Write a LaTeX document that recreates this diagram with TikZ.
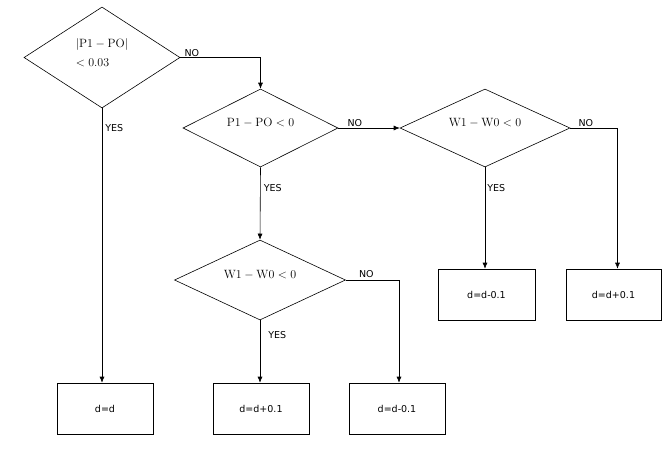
\documentclass[tikz,border=0pt]{standalone}
\usepackage{amsmath}
\usepackage{fontspec}
\setsansfont{DejaVu Sans}
\usetikzlibrary{shapes.geometric,arrows.meta}

\tikzset{
  cond/.style={draw, shape=diamond, aspect=2, inner sep=0pt, font=\fontsize{12}{19}\selectfont, text height=9pt, text depth=12.5pt},
  res/.style={draw, rectangle, minimum width=96pt, minimum height=51pt, inner sep=0pt, font=\sffamily\fontsize{9.5}{11}\selectfont},
  lbl/.style={font=\sffamily\fontsize{9.5}{11}\selectfont, inner sep=0pt},
}

\begin{document}
\begin{tikzpicture}[x=1pt,y=-1pt,line width=0.6pt,>={Latex[length=6pt,width=5pt]}]
\useasboundingbox (0,0) rectangle (669,456);

% Decisions
\node[cond, minimum width=156pt, minimum height=101pt, align=left, text height=28pt, text depth=11pt] (q1) at (102,57.5) {$|\mathrm{P1}-\mathrm{PO}|$\\$<0.03$};
\node[cond, minimum width=155pt, minimum height=78pt] (q2) at (260.5,128) {$\mathrm{P1}-\mathrm{PO}<0$};
\node[cond, minimum width=170pt, minimum height=78pt] (q3) at (485,128) {$\mathrm{W1}-\mathrm{W0}<0$};
\node[cond, minimum width=171pt, minimum height=80pt] (q4) at (260,280) {$\mathrm{W1}-\mathrm{W0}<0$};

% Results
\node[res] (r1) at (105,408.5) {d=d};
\node[res] (r2) at (261,408.5) {d=d+0.1};
\node[res] (r3) at (397,408.5) {d=d-0.1};
\node[res, minimum width=97pt] (r4) at (486.5,294.5) {d=d-0.1};
\node[res, minimum width=95pt] (r5) at (613.5,294.5) {d=d+0.1};

% Branches
\draw[->] (q1.east) -| node[lbl, anchor=south west, pos=0, xshift=4pt, yshift=1pt] {NO} (q2.north);
\draw[->] (q1.south) -- node[lbl, anchor=west, pos=0, xshift=3pt, yshift=-20pt] {YES} (q1.south |- r1.north);

\draw[->] (q2.east) -- node[lbl, anchor=south west, pos=0, xshift=9pt, yshift=1pt] {NO} (q3.west);
\draw[->] (q2.south) -- node[lbl, anchor=west, pos=0, xshift=3pt, yshift=-21pt] {YES} (q4.north);

\draw[->] (q3.east) -| node[lbl, anchor=south west, pos=0, xshift=8pt, yshift=1pt] {NO} ([xshift=4pt]r5.north);
\draw[->] (q3.south) -- node[lbl, anchor=west, pos=0, xshift=2pt, yshift=-21pt] {YES} (q3.south |- r4.north);

\draw[->] (q4.east) -| node[lbl, anchor=south west, pos=0, xshift=13pt, yshift=2pt] {NO} ([xshift=2pt]r3.north);
\draw[->] (q4.south) -- node[lbl, anchor=west, pos=0, xshift=8pt, yshift=-15pt] {YES} (q4.south |- r2.north);

\end{tikzpicture}
\end{document}
